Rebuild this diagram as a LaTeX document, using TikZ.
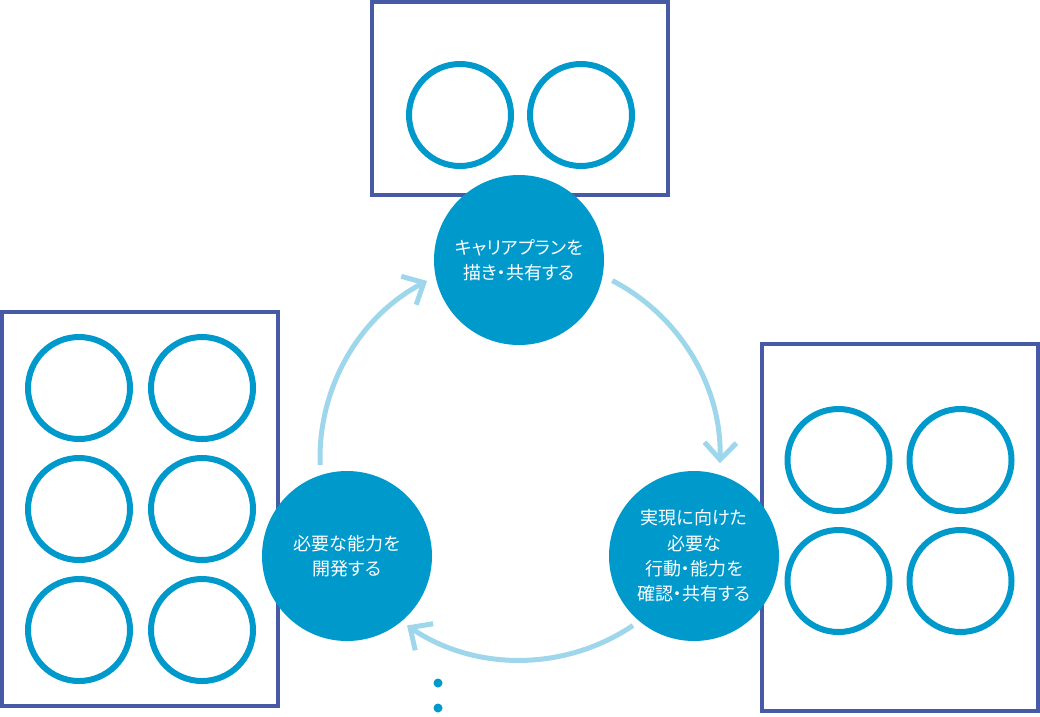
\documentclass[tikz,border=0pt]{standalone}
\usepackage{fontspec}
\setmainfont[RawFeature=+palt]{Noto Sans CJK JP}
\usetikzlibrary{arrows.meta}
\definecolor{mainblue}{RGB}{0,153,204}
\definecolor{boxblue}{RGB}{70,90,166}
\definecolor{arrowblue}{RGB}{158,214,236}
\begin{document}
\begin{tikzpicture}[x=1pt,y=-1pt,
  frame/.style={draw=boxblue,line width=4pt,rectangle,inner sep=0pt},
  ring/.style={circle,draw=mainblue,line width=6pt,minimum size=102pt,inner sep=0pt},
  stage/.style={circle,fill=mainblue,minimum size=170pt,inner sep=0pt,text=white,align=center,font=\fontsize{18}{25.3}\selectfont},
  cyclearrow/.style={draw=arrowblue,line width=5pt,-{Straight Barb[length=17pt,width=32pt]}},
  dotmark/.style={circle,fill=mainblue,minimum size=9pt,inner sep=0pt}]
\useasboundingbox (0,0) rectangle (1040,716);
% frames
\node[frame,minimum width=296pt,minimum height=193pt] (topbox) at (520,98.5) {};
\node[frame,minimum width=276pt,minimum height=393.5pt] (leftbox) at (140,508.75) {};
\node[frame,minimum width=275.5pt,minimum height=367pt] (rightbox) at (899.75,527.5) {};
% rings
\node[ring] (t1) at (460,115) {};
\node[ring] (t2) at (581,115) {};
\node[ring] (l1) at (79,388) {};
\node[ring] (l2) at (202,388) {};
\node[ring] (l3) at (79,509) {};
\node[ring] (l4) at (202,509) {};
\node[ring] (l5) at (79,630) {};
\node[ring] (l6) at (202,630) {};
\node[ring] (r1) at (838.5,460) {};
\node[ring] (r2) at (960.5,460) {};
\node[ring] (r3) at (838.5,581) {};
\node[ring] (r4) at (960.5,581) {};
% stages
\node[stage] (plan) at (519,260) {キャリアプランを\\描き・共有する};
\node[stage] (check) at (694,556) {実現に向けた\\必要な\\行動・能力を\\確認・共有する};
\node[stage] (develop) at (347,556) {必要な能力を\\開発する};
% cycle arrows
\coordinate (O) at (520,458);
\draw[cyclearrow] ([shift={(-62.5:200)}]O) arc[start angle=-62.5,end angle=1.5,radius=200];
\draw[cyclearrow] ([shift={(56:202)}]O) arc[start angle=56,end angle=124,radius=202];
\draw[cyclearrow] ([shift={(-182:200)}]O) arc[start angle=-182,end angle=-117.7,radius=200];
% dots
\node[dotmark] (d1) at (438,683) {};
\node[dotmark] (d2) at (438,708) {};
\end{tikzpicture}
\end{document}
